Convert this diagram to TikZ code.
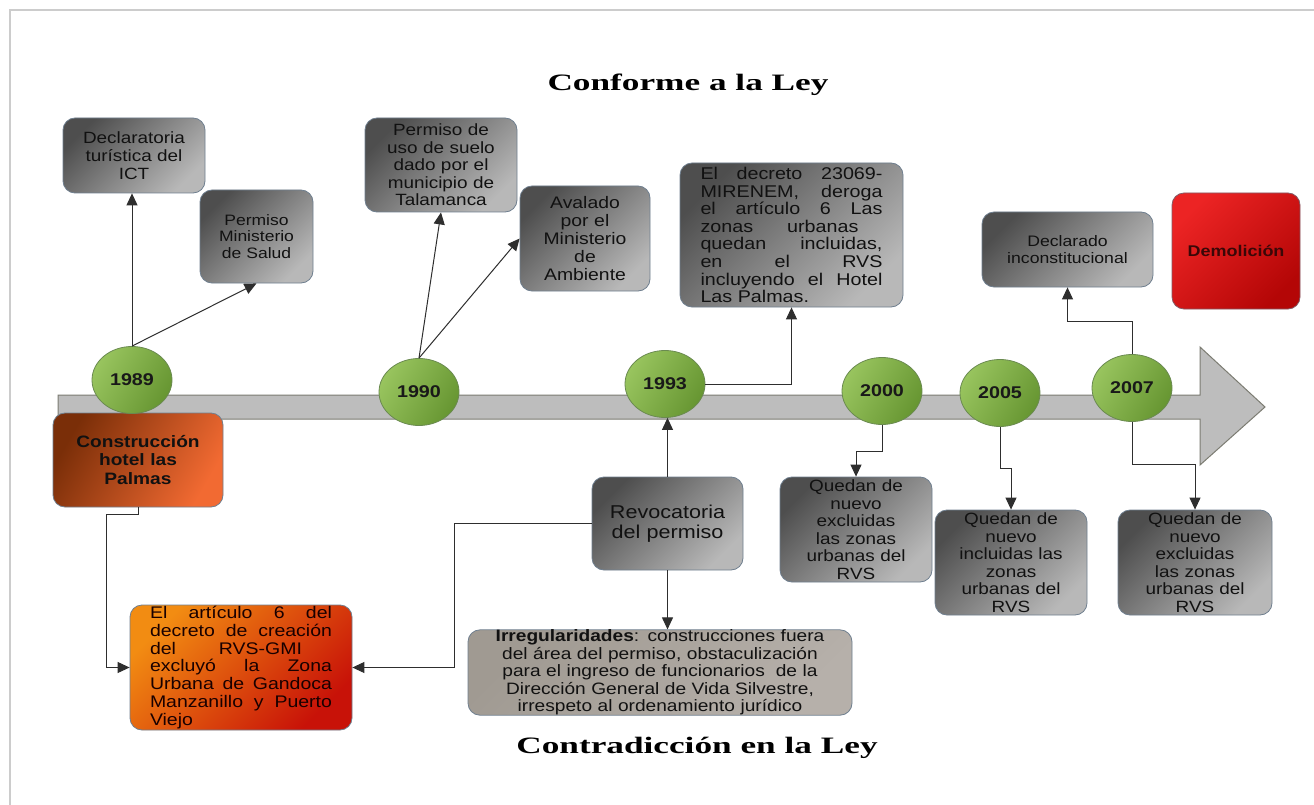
\documentclass[tikz,border=0pt]{standalone}
\usepackage{fontspec}
\setmainfont{Liberation Sans}[FakeStretch=1.16]
\newfontfamily\titlefont{Liberation Serif}[FakeStretch=1.5]
\usetikzlibrary{arrows.meta,shapes.geometric}
\newcommand\setfs[2]{\fontsize{#1}{#2}\selectfont}
\definecolor{gdark}{HTML}{4E4E4E}
\definecolor{glight}{HTML}{B8B8B8}
\definecolor{gborder}{HTML}{6F7F8F}
\definecolor{grnL}{HTML}{98C45E}
\definecolor{grnD}{HTML}{679632}
\definecolor{grnB}{HTML}{6A8A50}
\definecolor{brownD}{HTML}{7A2E08}
\definecolor{brownL}{HTML}{F26A32}
\definecolor{orL}{HTML}{F28C12}
\definecolor{orD}{HTML}{C81208}
\definecolor{redL}{HTML}{EC2424}
\definecolor{redD}{HTML}{B40606}
\definecolor{beigeD}{HTML}{A09A92}
\definecolor{beigeL}{HTML}{B6B0AA}
\definecolor{bandF}{HTML}{BDBDBD}
\definecolor{bandB}{HTML}{7C7C72}
\definecolor{frameC}{HTML}{CCCCCC}
\definecolor{txt}{HTML}{111111}
\definecolor{lineC}{HTML}{2E2E2E}
\definecolor{demtxt}{HTML}{3A0808}
\tikzset{
  basebox/.style={rounded corners=12pt, draw=gborder, line width=0.8pt, inner sep=0pt, text=txt, align=center},
  gbox/.style={basebox, top color=gdark, bottom color=glight, shading angle=45},
  yr/.style={ellipse, draw=grnB, line width=0.8pt, top color=grnL, bottom color=grnD, shading angle=60,
    minimum width=80pt, minimum height=67pt, inner sep=0pt, font=\setfs{17}{18}\bfseries, text=black!90},
  conn/.style={draw=lineC, line width=1pt, -{Triangle[length=12pt,width=11pt]}},
  ttl/.style={font=\titlefont\setfs{23.5}{26}\bfseries, text=black}
}
\begin{document}
\begin{tikzpicture}[x=1pt,y=-1pt]
\useasboundingbox (0,0) rectangle (1314,805);
\fill[white] (0,0) rectangle (1314,805);
\draw[frameC, line width=2pt] (10,805) -- (10,10) -- (1314,10);

% timeline band arrow
\draw[bandB, line width=1pt, fill=bandF] (58,395) -- (1200,395) -- (1200,347) -- (1265,407) -- (1200,465) -- (1200,419) -- (58,419) -- cycle;

% titles
\node[ttl] (t1) at (688,85) {Conforme a la Ley};
\node[ttl] (t2) at (697,748) {Contradicción en la Ley};

% upper boxes
\node[gbox, minimum width=142pt, minimum height=75pt, text width=134pt, font=\setfs{16.3}{18.3}] (ict) at (134,155.5) {Declaratoria\\turística del\\ICT};
\node[gbox, minimum width=113pt, minimum height=93pt, text width=107pt, font=\setfs{15.1}{16.7}] (salud) at (256.5,236.5) {Permiso\\Ministerio\\de Salud};
\node[gbox, minimum width=152pt, minimum height=94pt, text width=144pt, font=\setfs{16.3}{17.5}] (uso) at (441,165) {Permiso de\\uso de suelo\\dado por el\\municipio de\\Talamanca};
\node[gbox, minimum width=130pt, minimum height=105pt, text width=124pt, font=\setfs{16.7}{18}] (aval) at (585,238.5) {Avalado\\por el\\Ministerio\\de\\Ambiente};
\node[basebox, top color=gdark, bottom color=glight, shading angle=45, minimum width=223pt, minimum height=144pt, text width=182pt, align=justify, font=\setfs{17}{17.6}] (dec) at (791.5,235) {El decreto 23069-\linebreak MIRENEM, deroga\linebreak el artículo 6 Las\linebreak zonas urbanas\hspace*{24pt}\linebreak quedan incluidas,\linebreak en el RVS\linebreak incluyendo el Hotel\linebreak Las Palmas.};
\node[gbox, minimum width=171pt, minimum height=75pt, text width=164pt, font=\setfs{15.2}{16.7}] (dcl) at (1067.5,249.5) {Declarado\\inconstitucional};
\node[basebox, draw=gborder!70!redD, top color=redL, bottom color=redD, shading angle=45, minimum width=128pt, minimum height=116pt, text width=122pt, font=\setfs{15.5}{17}\bfseries, text=demtxt] (dem) at (1236,251) {Demolición};

% lower boxes
\node[basebox, top color=brownD, bottom color=brownL, shading angle=60, minimum width=170pt, minimum height=94pt, text width=162pt, font=\setfs{16.5}{18.2}\bfseries] (cons) at (138,460) {Construcción\\hotel las\\Palmas};
\node[basebox, top color=orL, bottom color=orD, shading angle=45, minimum width=222pt, minimum height=125pt, text width=182pt, align=justify, font=\setfs{16.8}{17.8}, text=black!90!red] (art) at (241,667.5) {El artículo 6 del\linebreak decreto de creación\linebreak del RVS-GMI\hspace*{30pt}\linebreak excluyó la Zona\linebreak Urbana de Gandoca\linebreak Manzanillo y Puerto\linebreak Viejo};
\node[gbox, minimum width=151pt, minimum height=93pt, text width=145pt, font=\setfs{18.6}{20}] (rev) at (667.5,523.5) {Revocatoria\\del permiso};
\node[basebox, top color=beigeD, bottom color=beigeL, shading angle=45, minimum width=384pt, minimum height=85pt, text width=378pt, font=\setfs{16.5}{17.5}] (irr) at (660,672.5) {\textbf{Irregularidades}: construcciones fuera\\del área del permiso, obstaculización\\para el ingreso de funcionarios\ \ de la\\Dirección General de Vida Silvestre,\\irrespeto al ordenamiento jurídico};
\node[gbox, minimum width=152pt, minimum height=105pt, text width=146pt, font=\setfs{16.3}{17.5}] (q00) at (856,529.5) {Quedan de\\nuevo\\excluidas\\las zonas\\urbanas del\\RVS};
\node[gbox, minimum width=152pt, minimum height=105pt, text width=146pt, font=\setfs{16.3}{17.5}] (q05) at (1011,562.5) {Quedan de\\nuevo\\incluidas las\\zonas\\urbanas del\\RVS};
\node[gbox, minimum width=154pt, minimum height=105pt, text width=148pt, font=\setfs{16.3}{17.5}] (q07) at (1195,562.5) {Quedan de\\nuevo\\excluidas\\las zonas\\urbanas del\\RVS};

% year ellipses
\node[yr] (y89) at (132,380) {1989};
\node[yr] (y90) at (419,392) {1990};
\node[yr] (y93) at (665,384) {1993};
\node[yr] (y00) at (882,391) {2000};
\node[yr] (y05) at (1000,393) {2005};
\node[yr] (y07) at (1132,388) {2007};

% connectors
\draw[conn] (y89.north) -- (y89.north |- ict.south);
\draw[conn] (y89.north) -- (salud.south);
\draw[conn] (y90.north) -- (uso.south);
\draw[conn] (y90.north) -- (aval.west);
\draw[conn] (y93.east) -| (dec.south);
\draw[conn] (rev.north) -- (rev.north |- y93.south);
\draw[conn] (rev.west) -- ++(-137,0) |- (art.east);
\draw[conn] (rev.south) -- (rev.south |- irr.north);
\draw[conn] (cons.south) -- ++(0,7) -- ++(-32,0) |- (art.west);
\draw[conn] (y00.south) -- ++(0,27) -| (q00.north);
\draw[conn] (y05.south) -- ++(0,42) -| (q05.north);
\draw[conn] (y07.south) -- ++(0,43) -| (q07.north);
\draw[conn] (y07.north) -- ++(0,-33) -| (dcl.south);
\end{tikzpicture}
\end{document}
